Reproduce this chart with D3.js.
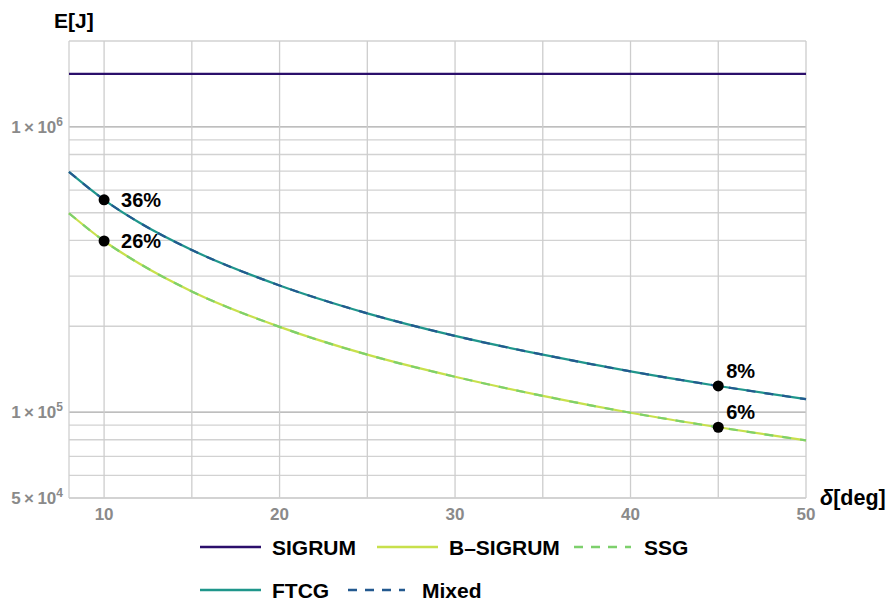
<!DOCTYPE html>
<html>
<head>
<meta charset="utf-8">
<script src="https://cdn.jsdelivr.net/npm/d3@7"></script>
<style>
body{margin:0;background:#fff;}
svg{font-family:"Liberation Sans",Arial,sans-serif;}
.tick-lab{fill:#8a8a8a;font-weight:bold;font-size:17px;}
</style>
</head>
<body>
<svg class="svg" width="890" height="602"></svg>
<script>
// angles (deg)
var delta=[8,10,12,15,20,25,30,35,40,45,50];
var sigrum=[1.535e6,1.535e6,1.535e6,1.535e6,1.535e6,1.535e6,1.535e6,1.535e6,1.535e6,1.535e6,1.535e6];
var ftcg=[6.95e5,5.55e5,4.62e5,3.70e5,2.78e5,2.22e5,1.85e5,1.59e5,1.39e5,1.235e5,1.11e5];
var mixed=ftcg.slice();
var bsigrum=[4.98e5,3.98e5,3.32e5,2.65e5,1.99e5,1.59e5,1.33e5,1.14e5,9.95e4,8.85e4,7.96e4];
var ssg=bsigrum.slice();
var xTicks=[10,20,30,40,50];
var xGrid=[10,15,20,25,30,35,40,45,50];
var yGrid=[5e4,6e4,7e4,8e4,9e4,1e5,2e5,3e5,4e5,5e5,6e5,7e5,8e5,9e5,1e6,2e6];
var yTicks=[[5e4,"5","4"],[1e5,"1","5"],[1e6,"1","6"]];
var marks=[[10,5.55e5,"36%"],[10,3.98e5,"26%"],[45,1.235e5,"8%"],[45,8.85e4,"6%"]];

var series=[
  {name:"SIGRUM",v:sigrum,color:"#2b0f6b",dash:null},
  {name:"B\u2013SIGRUM",v:bsigrum,color:"#c8e04c",dash:null},
  {name:"FTCG",v:ftcg,color:"#1f968b",dash:null},
  {name:"SSG",v:ssg,color:"#7dd06c",dash:"9,9"},
  {name:"Mixed",v:mixed,color:"#23598f",dash:"9,9"}
];

var svg=d3.select(".svg");
var x=d3.scaleLinear().domain([8,50]).range([69,806]);
var y=d3.scaleLog().domain([5e4,2e6]).range([498,41]);

var grid=svg.append("g").attr("class","grid");
grid.selectAll(".gy").data(yGrid).enter().append("line")
  .attr("x1",x(8)).attr("x2",x(50)).attr("y1",d=>y(d)).attr("y2",d=>y(d))
  .attr("stroke",d=>(d==1e5||d==1e6)?"#a8a8a8":"#d2d2d2").attr("stroke-width",1.3);
grid.selectAll(".gx").data(xGrid).enter().append("line")
  .attr("x1",d=>x(d)).attr("x2",d=>x(d)).attr("y1",y(5e4)).attr("y2",y(2e6))
  .attr("stroke","#cdcdcd").attr("stroke-width",1.3);
// axes frame
svg.append("line").attr("x1",x(8)).attr("x2",x(8)).attr("y1",y(5e4)).attr("y2",y(2e6)).attr("stroke","#cfcfcf").attr("stroke-width",1.3);
svg.append("line").attr("x1",x(8)).attr("x2",x(50)).attr("y1",y(5e4)).attr("y2",y(5e4)).attr("stroke","#cfcfcf").attr("stroke-width",1.3);

// tick labels
svg.selectAll(".xt").data(xTicks).enter().append("text").attr("class","tick-lab")
  .attr("x",d=>x(d)).attr("y",520).attr("text-anchor","middle").text(d=>d);
var yt=svg.selectAll(".yt").data(yTicks).enter().append("text").attr("class","tick-lab")
  .attr("x",63).attr("y",d=>y(d[0])+6).attr("text-anchor","end");
yt.append("tspan").text(d=>d[1]+"\u2009\u00d7\u200910");
yt.append("tspan").attr("dy",-7).attr("font-size",12).text(d=>d[2]);

svg.append("text").attr("x",54).attr("y",28).attr("font-weight","bold").attr("font-size",21).text("E[J]");
var xl=svg.append("text").attr("x",820).attr("y",505).attr("font-weight","bold").attr("font-size",21.5);
xl.append("tspan").attr("font-style","italic").text("\u03b4");
xl.append("tspan").text("[deg]");

var line=d3.line().x((d,i)=>x(delta[i])).y(d=>y(d)).curve(d3.curveMonotoneX);
svg.append("g").selectAll("path").data(series).enter().append("path")
  .attr("d",d=>line(d.v)).attr("fill","none").attr("stroke",d=>d.color)
  .attr("stroke-width",2.2).attr("stroke-dasharray",d=>d.dash);

var gm=svg.append("g");
gm.selectAll("circle").data(marks).enter().append("circle")
  .attr("cx",d=>x(d[0])).attr("cy",d=>y(d[1])).attr("r",5.5).attr("fill","#000");
gm.selectAll("text").data(marks).enter().append("text")
  .attr("x",d=>d[0]==10?x(d[0])+17:x(d[0])+8)
  .attr("y",d=>d[0]==10?y(d[1])+7:y(d[1])-8)
  .attr("font-weight","bold").attr("font-size",20).text(d=>d[2]);

// legend
var legPos=[[200,547],[377,547],[200,590],[574,547],[348,590]];
var legText=[272,449,272,644,422];
var lg=svg.append("g").selectAll("g").data(series).enter().append("g")
  .attr("transform",(d,i)=>"translate("+legPos[i][0]+","+legPos[i][1]+")");
lg.append("line").attr("x1",0).attr("x2",d=>d.dash?57:61).attr("stroke",d=>d.color).attr("stroke-width",2.3)
  .attr("stroke-dasharray",d=>d.dash?"9,8":null);
lg.append("text").attr("x",(d,i)=>legText[i]-legPos[i][0]).attr("y",8).attr("font-weight","bold").attr("font-size",21).text(d=>d.name);
</script>
</body>
</html>
